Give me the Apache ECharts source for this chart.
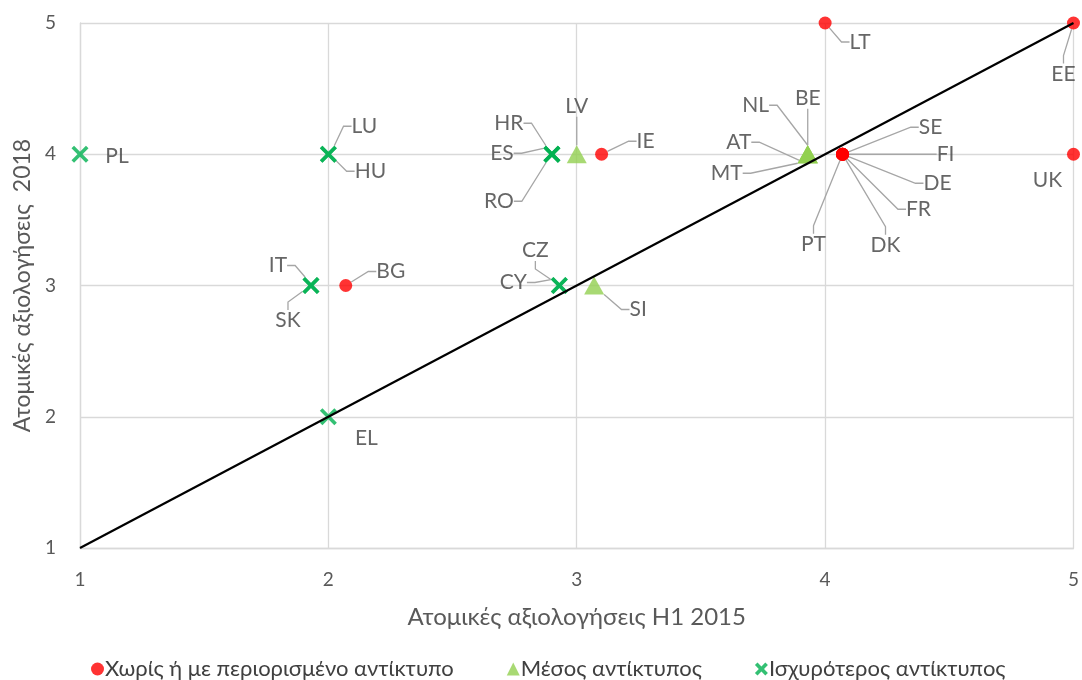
<!DOCTYPE html>
<html><head><meta charset="utf-8">
<script src="https://cdn.jsdelivr.net/npm/echarts@6/dist/echarts.min.js"></script>
<style>html,body{margin:0;padding:0;background:#fff}#c{width:1082px;height:680px}</style>
</head><body><div id="c"></div>
<script>
// ---- data ----
const xTicks = [1, 2, 3, 4, 5];
const yTicks = [1, 2, 3, 4, 5];
const seriesNames = ['Χωρίς ή με περιορισμένο αντίκτυπο', 'Μέσος αντίκτυπος', 'Ισχυρότερος αντίκτυπος'];
const redNames = ['LT', 'EE', 'UK', 'IE', 'BG', 'SE', 'FI', 'DE', 'FR', 'DK', 'PT'];
const redX = [4, 5, 5, 3.1, 2.07, 4.07, 4.07, 4.07, 4.07, 4.07, 4.07];
const redY = [5, 5, 4, 4, 3, 4, 4, 4, 4, 4, 4];
const midNames = ['LV', 'SI', 'NL', 'BE', 'AT', 'MT'];
const midX = [3, 3.07, 3.93, 3.93, 3.93, 3.93];
const midY = [4, 3, 4, 4, 4, 4];
const strongNames = ['PL', 'LU', 'HU', 'HR', 'ES', 'RO', 'IT', 'SK', 'CY', 'CZ', 'EL'];
const strongX = [1, 2, 2, 2.9, 2.9, 2.9, 1.93, 1.93, 2.93, 2.93, 2];
const strongY = [4, 4, 4, 4, 4, 4, 3, 3, 3, 3, 2];
const diagX = [1, 5];
const diagY = [1, 5];

// ---- label placement (pixel offsets from the marker) ----
const labelOffsets = {
  LT: [35, 19], EE: [-10, 51], UK: [-26, 26], IE: [44, -13], BG: [45, -14],
  SE: [88, -27], FI: [103, 0], DE: [95, 29], FR: [76, 55], DK: [43, 91], PT: [-29, 90],
  LV: [0, -48], SI: [44, 24], NL: [-52, -49], BE: [0, -56], AT: [-69, -12], MT: [-81, 19],
  PL: [37, 2], LU: [36, -28], HU: [42, 17], HR: [-43, -31], ES: [-50, -1], RO: [-53, 47],
  IT: [-33, -20], SK: [-23, 35], CY: [-46, -3], CZ: [-24, -35], EL: [38, 21]
};
const noLeader = ['PL', 'UK', 'EL'];

const FONT = 'Lato, "Noto Sans", sans-serif';
const xPath = 'path://M0,3 L3,0 L10,7 L17,0 L20,3 L13,10 L20,17 L17,20 L10,13 L3,20 L0,17 L7,10 Z';
const xPathBold = 'path://M0,4 L4,0 L10,6 L16,0 L20,4 L14,10 L20,16 L16,20 L10,14 L4,20 L0,16 L6,10 Z';

function build(names, xs, ys) {
  return names.map((n, i) => ({
    name: n, value: [xs[i], ys[i]],
    labelLine: { show: noLeader.indexOf(n) < 0 }
  }));
}
function layoutFn(names) {
  return function (p) {
    const off = labelOffsets[names[p.dataIndex]] || [0, 0];
    return {
      x: p.rect.x + p.rect.width / 2 + off[0],
      y: p.rect.y + p.rect.height / 2 + off[1],
      align: 'center', verticalAlign: 'middle'
    };
  };
}
const commonLabel = {
  show: true, position: 'inside', formatter: '{b}', color: '#404040',
  fontSize: 21, fontFamily: FONT, textBorderWidth: 0
};
const commonLine = { show: true, length2: 8, lineStyle: { color: '#a6a6a6', width: 1.3 } };

const chart = echarts.init(document.getElementById('c'));
chart.setOption({
  animation: false,
  backgroundColor: '#fff',
  textStyle: { fontFamily: FONT },
  grid: { left: 80, right: 6, top: 23, bottom: 132 },
  xAxis: {
    type: 'value', min: xTicks[0], max: xTicks[xTicks.length - 1], interval: 1,
    name: 'Ατομικές αξιολογήσεις Η1 2015', nameLocation: 'middle', nameGap: 57,
    nameTextStyle: { color: '#595959', fontSize: 24, fontFamily: FONT },
    axisLine: { lineStyle: { color: '#d9d9d9', width: 1.3 } },
    axisTick: { show: false },
    axisLabel: { color: '#595959', fontSize: 19, margin: 22, fontFamily: FONT },
    splitLine: { lineStyle: { color: '#d9d9d9', width: 1.3 } }
  },
  yAxis: {
    type: 'value', min: yTicks[0], max: yTicks[yTicks.length - 1], interval: 1,
    name: 'Ατομικές αξιολογήσεις  2018', nameLocation: 'middle', nameGap: 36,
    nameTextStyle: { color: '#595959', fontSize: 23, fontFamily: FONT },
    axisLine: { show: true, lineStyle: { color: '#d9d9d9', width: 1.3 } },
    axisTick: { show: false },
    axisLabel: { color: '#595959', fontSize: 19, margin: 24, fontFamily: FONT },
    splitLine: { lineStyle: { color: '#d9d9d9', width: 1.3 } }
  },
  legend: {
    data: [
      { name: seriesNames[0], icon: 'circle' },
      { name: seriesNames[1], icon: 'triangle' },
      { name: seriesNames[2], icon: xPathBold }
    ],
    left: 86, top: 653, itemWidth: 13, itemHeight: 13, itemGap: 53,
    textStyle: { color: '#404040', fontSize: 22, fontFamily: FONT, padding: [0, 0, 0, -4] }
  },
  series: [
    {
      name: seriesNames[0], type: 'scatter', clip: false, symbol: 'circle', symbolSize: 13,
      itemStyle: { color: '#ff0000' },
      data: build(redNames, redX, redY),
      label: commonLabel, labelLine: commonLine, labelLayout: layoutFn(redNames),
      emphasis: { disabled: true }, z: 3
    },
    {
      name: seriesNames[1], type: 'scatter', clip: false, symbol: 'triangle', symbolSize: [20, 18],
      itemStyle: { color: '#92d050' },
      data: build(midNames, midX, midY),
      label: commonLabel, labelLine: commonLine, labelLayout: layoutFn(midNames),
      emphasis: { disabled: true }, z: 3
    },
    {
      name: seriesNames[2], type: 'scatter', clip: false, symbol: xPath, symbolSize: 17,
      itemStyle: { color: '#00b050' },
      data: build(strongNames, strongX, strongY),
      label: commonLabel, labelLine: commonLine, labelLayout: layoutFn(strongNames),
      emphasis: { disabled: true }, z: 3
    },
    {
      type: 'line', symbol: 'none', silent: true, z: 4,
      data: diagX.map((x, i) => [x, diagY[i]]),
      lineStyle: { color: '#000', width: 2.2 }
    }
  ]
});
</script>
</body></html>
